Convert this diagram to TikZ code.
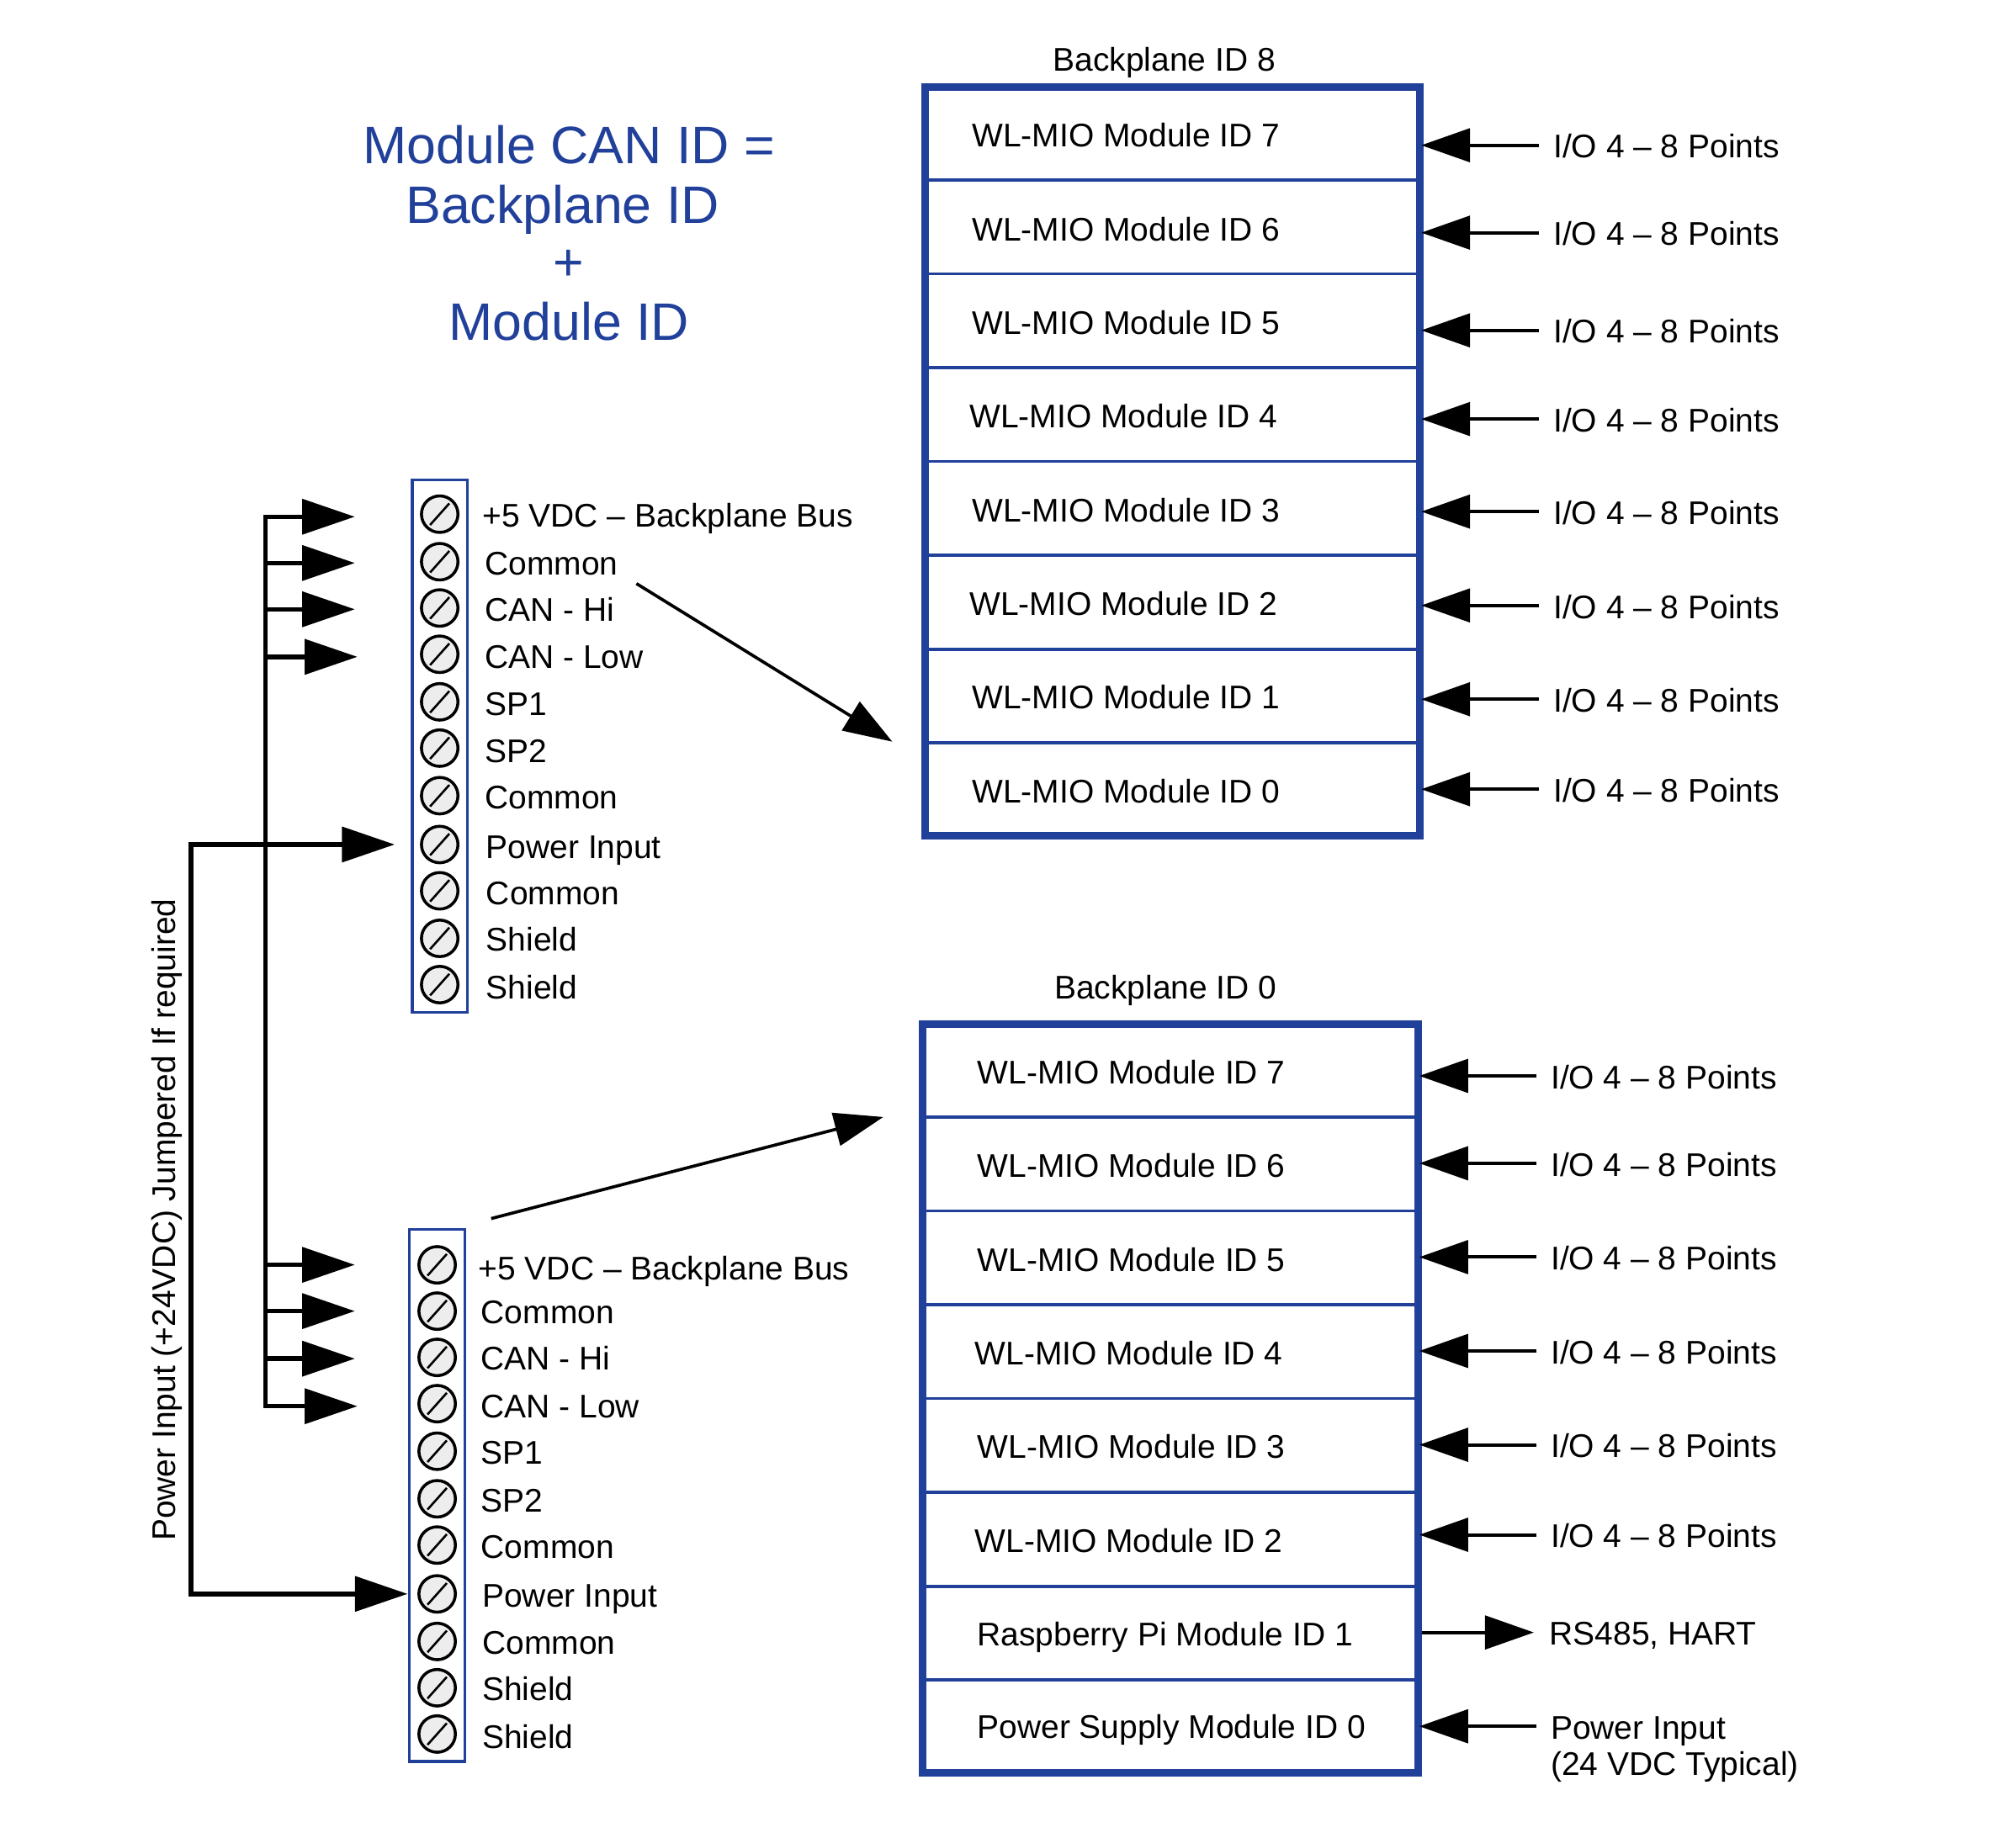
\documentclass[tikz,border=0pt]{standalone}
\usepackage{fontspec}
\setmainfont{Liberation Sans}
\usetikzlibrary{arrows.meta, positioning}
\definecolor{planeblue}{HTML}{21409A}
\tikzset{
  title text/.style={font=\fontsize{41}{41}\selectfont,text=planeblue,inner sep=0pt,text height=29pt,text depth=0pt},
  side text/.style={font=\fontsize{25.5}{30}\selectfont,inner sep=0pt,text height=18pt,text depth=0pt,anchor=west,align=left},
  plane/.style={draw=planeblue,line width=5.8pt,rectangle,inner sep=0pt},
  divider/.style={draw=planeblue,line width=2.5pt},
  strip/.style={draw=planeblue,line width=2.3pt,rectangle,inner sep=0pt,minimum width=43pt,minimum height=414pt},
  terminal/.style={circle,draw,line width=2.3pt,fill=black!7,inner sep=0pt,minimum size=28.4pt,
    path picture={\draw[line width=1.7pt] ([shift={(-7.5pt,-8.4pt)}]path picture bounding box.center) -- ([shift={(7.5pt,8.4pt)}]path picture bounding box.center);}},
  io arrow/.style={line width=2.6pt,shorten >=-2pt,-{Triangle[length=38pt,width=26pt]}},
  bus arrow/.style={line width=3.6pt,-{Triangle[length=41pt,width=27pt]}},
  bus line/.style={line width=3.6pt,line cap=rect},
  id arrow/.style={line width=2.4pt,-{Triangle[length=38pt,width=26pt]}}
}
\begin{document}
\begin{tikzpicture}[x=1pt,y=-1pt]
  \useasboundingbox (0,0) rectangle (1568,1429.3);
  % heading
  \node[title text] (head1) at (442.5,113) {Module CAN ID =};
  \node[title text] (head2) at (437.5,159) {Backplane ID};
  \node[title text] (head3) at (442.5,204) {+};
  \node[title text] (head4) at (442.5,250) {Module ID};
  % backplane 8
  \node[plane,minimum width=385pt,minimum height=582pt] (upper) at (912,359) {};
  \node[side text,anchor=center] (uppername) at (905.5,46.5) {Backplane ID 8};
  \foreach \y in {140,213,286,359,432,505,578}
    \draw[divider] (upper.west |- 0,\y) -- (upper.east |- 0,\y);
  \foreach \n/\x/\y in {7/756/105,6/756/178.5,5/756/251,4/754/324,3/756/397,2/754/470,1/756/542.5,0/756/615.5}
    \node[side text] (um\n) at (\x,\y) {WL-MIO Module ID \n};
  \foreach \n/\y in {7/113,6/181,5/257,4/326,3/398,2/471,1/544,0/614} {
    \coordinate (uio\n) at (1197,\y);
    \node[side text,right=11pt of uio\n,yshift=-1pt] (ul\n) {I/O 4 -- 8 Points};
    \draw[io arrow] (uio\n) -- (uio\n -| upper.east);
  }
  % backplane 0
  \node[plane,minimum width=385.5pt,minimum height=582.5pt] (lower) at (910.2,1088) {};
  \node[side text,anchor=center] (lowername) at (906.5,768) {Backplane ID 0};
  \foreach \y in {869,942,1015,1088,1161,1234,1307}
    \draw[divider] (lower.west |- 0,\y) -- (lower.east |- 0,\y);
  \foreach \n/\x/\y in {7/760/834,6/760/907,5/760/980,4/758/1053,3/760/1125.5,2/758/1198.5}
    \node[side text] (lm\n) at (\x,\y) {WL-MIO Module ID \n};
  \node[side text] (lm1) at (760,1271.5) {Raspberry Pi Module ID 1};
  \node[side text] (lm0) at (760,1343.5) {Power Supply Module ID 0};
  \foreach \n/\y in {7/837,6/905,5/978,4/1051,3/1124,2/1194} {
    \coordinate (lio\n) at (1195,\y);
    \node[side text,right=11pt of lio\n,yshift=-1pt] (ll\n) {I/O 4 -- 8 Points};
    \draw[io arrow] (lio\n) -- (lio\n -| lower.east);
  }
  \coordinate (lio1) at (1193,1270);
  \node[side text,right=12pt of lio1,yshift=-1pt] (ll1) {RS485, HART};
  \draw[io arrow,shorten >=0pt] (lio1 -| lower.east) -- (lio1);
  \coordinate (lio0) at (1195,1343);
  \node[side text,right=11pt of lio0,yshift=-1pt] (ll0) {Power Input};
  \node[side text,below=10pt of ll0.south west,anchor=north west] (ll0b) {(24 VDC Typical)};
  \draw[io arrow] (lio0) -- (lio0 -| lower.east);
  % terminal strips
  \node[strip] (ustrip) at (342,580.5) {};
  \foreach \n/\y in {1/400,2/437,3/473,4/509,5/546,6/582,7/619,8/657,9/693,10/730,11/766}
    \node[terminal] (ut\n) at (342,\y) {};
  \foreach \n/\x/\y/\t in {1/375/401/+5 VDC -- Backplane Bus,2/377/438/Common,3/377/474/CAN - Hi,4/377/511/CAN - Low,
    5/377/547.5/SP1,6/377/584/SP2,7/377/620/Common,8/378/659/Power Input,9/378/695/Common,10/378/731/Shield,11/378/768/Shield}
    \node[side text] (ut\n label) at (\x,\y) {\t};
  \node[strip] (lstrip) at (340,1163.5) {};
  \foreach \n/\y in {1/984,2/1020,3/1056,4/1092,5/1129,6/1166,7/1202,8/1240,9/1277,10/1313,11/1349}
    \node[terminal] (lt\n) at (340,\y) {};
  \foreach \n/\x/\y/\t in {1/372/987/+5 VDC -- Backplane Bus,2/374/1021/Common,3/374/1057/CAN - Hi,4/374/1094/CAN - Low,
    5/374/1130/SP1,6/374/1167/SP2,7/374/1203/Common,8/375/1241/Power Input,9/375/1278/Common,10/375/1314/Shield,11/375/1351/Shield}
    \node[side text] (lt\n label) at (\x,\y) {\t};
  % busses
  \coordinate (ubus) at (206.5,402);
  \coordinate (lbus) at (206.5,1094);
  \coordinate (utop) at (148.5,657);
  \coordinate (ltop) at (148.5,1240);
  \draw[bus line] (ubus) -- (lbus);
  \draw[bus line] (utop) -- (ltop);
  \foreach \n/\x/\y in {1/276/402,2/276/438,3/276/474,4/278/511,5/276/984,6/276/1020,7/276/1057,8/278/1094} {
    \coordinate (tip\n) at (\x,\y);
    \draw[bus arrow] (tip\n -| ubus) -- (tip\n);
  }
  \coordinate (pwr1) at (307,657);
  \coordinate (pwr2) at (317,1240);
  \draw[bus arrow] (utop) -- (pwr1);
  \draw[bus arrow] (ltop) -- (pwr2);
  \node[side text,anchor=center,rotate=90] (jumper) at (127.5,949) {Power Input (+24VDC) Jumpered If required};
  % pointers to the backplanes
  \coordinate (ufrom) at (495,454);
  \coordinate (uto) at (694,577);
  \coordinate (lfrom) at (382,948);
  \coordinate (lto) at (687,869);
  \draw[id arrow] (ufrom) -- (uto);
  \draw[id arrow] (lfrom) -- (lto);
\end{tikzpicture}
\end{document}
